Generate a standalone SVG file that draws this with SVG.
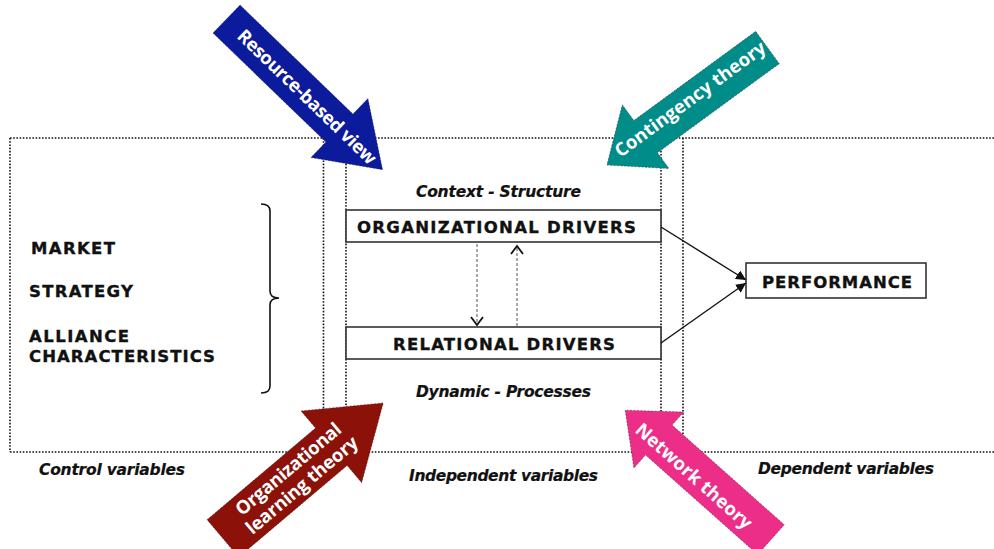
<svg xmlns="http://www.w3.org/2000/svg" width="994" height="549" viewBox="0 0 994 549">
  <defs>
    <style>
      .dot { fill: none; stroke: #111; stroke-width: 1.6; stroke-dasharray: 1.6 1.6; }
      .box { fill: #fff; stroke: #333; stroke-width: 1.6; }
      .cap { font-family: "DejaVu Sans", "Liberation Sans", sans-serif; font-weight: bold; font-size: 16.5px; fill: #111; stroke: #111; stroke-width: 0.35; }
      .ital { font-family: "DejaVu Sans", "Liberation Sans", sans-serif; font-weight: bold; font-style: italic; font-size: 15.5px; fill: #111; stroke: #111; stroke-width: 0.2; }
      .arrow-label { font-family: "Open Sans", "Liberation Sans", sans-serif; font-weight: bold; font-size: 18.5px; fill: #fff; }
      .block { stroke: #222; stroke-width: 0.7; stroke-dasharray: 2 1.5; stroke-opacity: 0.6; }
      .link { fill: none; stroke: #111; stroke-width: 1.4; }
      .dash { fill: none; stroke: #555; stroke-width: 1; stroke-dasharray: 3 2; }
      .chev { fill: none; stroke: #111; stroke-width: 1.8; }
    </style>
    <marker id="head" viewBox="0 0 10 10" refX="10" refY="5" markerWidth="10" markerHeight="10" markerUnits="userSpaceOnUse" orient="auto">
      <path d="M0,0 L10,5 L0,10 Z" fill="#111"/>
    </marker>
  </defs>

  <rect width="994" height="549" fill="#fff"/>

  <!-- dotted frame: control / independent / dependent zones -->
  <g id="frame">
    <line class="dot" x1="10" y1="138" x2="994" y2="138"/>
    <line class="dot" x1="10" y1="452" x2="994" y2="452"/>
    <line class="dot" x1="10" y1="138" x2="10" y2="452"/>
    <line class="dot" x1="323.5" y1="138" x2="323.5" y2="452"/>
    <line class="dot" x1="346" y1="138" x2="346" y2="452"/>
    <line class="dot" x1="661" y1="138" x2="661" y2="452"/>
    <line class="dot" x1="683" y1="138" x2="683" y2="452"/>
  </g>

  <!-- control variables -->
  <g id="controls">
    <text class="cap" x="31" y="254" textLength="84">MARKET</text>
    <text class="cap" x="29" y="297" textLength="104">STRATEGY</text>
    <text class="cap" x="29" y="342" textLength="100">ALLIANCE</text>
    <text class="cap" x="29" y="362" textLength="186">CHARACTERISTICS</text>
    <path d="M261,204 Q270,204 270,211 V291 Q270,298 279,298 Q270,298 270,305 V386 Q270,393 261,393" fill="none" stroke="#111" stroke-width="1.6"/>
  </g>

  <g id="context-label">
    <text class="ital" x="416" y="197" textLength="165">Context - Structure</text>
  </g>
  <g id="dynamic-label">
    <text class="ital" x="416" y="397" textLength="175">Dynamic - Processes</text>
  </g>

  <g id="org-drivers">
    <rect class="box" x="346" y="210" width="315" height="32"/>
    <text class="cap" x="357" y="233" textLength="279">ORGANIZATIONAL  DRIVERS</text>
  </g>

  <g id="rel-drivers">
    <rect class="box" x="346" y="327" width="315" height="32"/>
    <text class="cap" x="393" y="350" textLength="222">RELATIONAL  DRIVERS</text>
  </g>

  <g id="performance">
    <rect class="box" x="746" y="263" width="180" height="35"/>
    <text class="cap" x="762" y="288" textLength="150">PERFORMANCE</text>
  </g>

  <!-- connectors -->
  <g id="connectors">
    <line class="link" x1="661" y1="227" x2="746" y2="280" marker-end="url(#head)"/>
    <line class="link" x1="661" y1="343" x2="746" y2="283" marker-end="url(#head)"/>
    <line class="dash" x1="477" y1="244" x2="477" y2="324"/>
    <polyline class="chev" points="471,317 477,325 483,317"/>
    <line class="dash" x1="517" y1="326" x2="517" y2="247"/>
    <polyline class="chev" points="511,254 517,246 523,254"/>
  </g>

  <g id="control-caption">
    <text class="ital" x="39" y="475" textLength="146">Control variables</text>
  </g>
  <g id="independent-caption">
    <text class="ital" x="409" y="481" textLength="189">Independent variables</text>
  </g>
  <g id="dependent-caption">
    <text class="ital" x="758" y="474" textLength="176">Dependent variables</text>
  </g>

  <!-- theory block arrows -->
  <g id="resource-based-view">
    <g transform="translate(226.5,19) rotate(44)">
      <polygon class="block" fill="#0c1a9c" points="0,-19.5 157,-19.5 157,-41 217,0 157,41 157,19.5 0,19.5"/>
      <text class="arrow-label" x="112" y="6.5" text-anchor="middle" textLength="185">Resource-based view</text>
    </g>
  </g>

  <g id="contingency-theory">
    <g transform="translate(767.5,47.5) rotate(143.8)">
      <polygon class="block" fill="#008c89" points="0,-20 151,-20 151,-39.5 199,0 151,39.5 151,20 0,20"/>
    </g>
    <text class="arrow-label" transform="translate(690,99) rotate(-36.2)" x="0" y="6.5" text-anchor="middle" textLength="182">Contingency theory</text>
  </g>

  <g id="organizational-learning-theory">
    <g transform="translate(230.5,532) rotate(-40.2)">
      <polygon class="block" fill="#8c1209" points="-10,-24.5 132,-24.5 132,-47 200,0 132,47 132,24.5 -10,24.5"/>
    </g>
    <g transform="translate(295,477) rotate(-40.2)">
      <text class="arrow-label" x="0" y="-4" text-anchor="middle" textLength="132">Organizational</text>
      <text class="arrow-label" x="0" y="17" text-anchor="middle" textLength="140">learning theory</text>
    </g>
  </g>

  <g id="network-theory">
    <g transform="translate(763.5,533) rotate(-138.4)">
      <polygon class="block" fill="#ec2e89" points="-10,-20 140,-20 140,-37.5 185,0 140,37.5 140,20 -10,20"/>
    </g>
    <text class="arrow-label" transform="translate(694,476) rotate(41.6)" x="0" y="6.5" text-anchor="middle" textLength="149">Network theory</text>
  </g>
</svg>
